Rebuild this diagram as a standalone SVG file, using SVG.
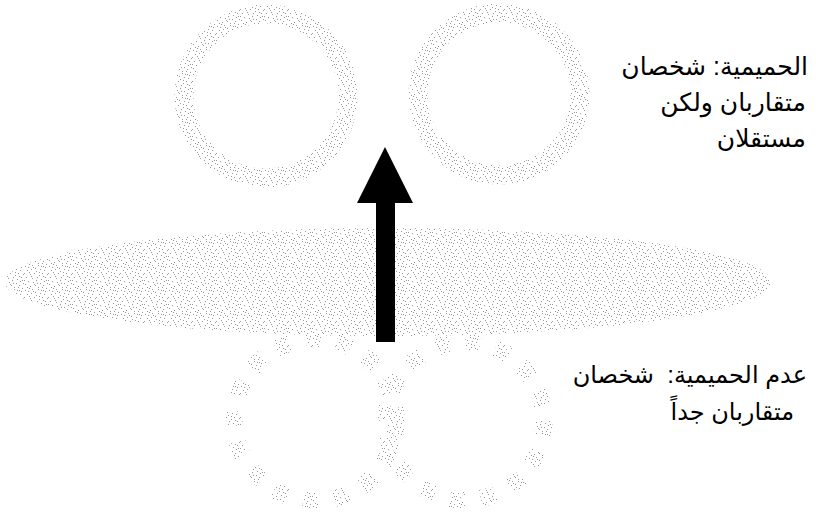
<svg xmlns="http://www.w3.org/2000/svg" width="816" height="519" viewBox="0 0 816 519">
<style>
.lbl{font-family:"Liberation Sans","DejaVu Sans",sans-serif;font-size:25px;fill:#000;white-space:pre}
.lbl2{font-size:24px}
.ring{fill:none;stroke:url(#stip);stroke-width:19}
.dring{fill:none;stroke:url(#stip);stroke-width:17;stroke-dasharray:15 16}
</style>
<defs>
<pattern id="stip" width="24" height="24" patternUnits="userSpaceOnUse">
<g fill="#999">
<rect x="1" y="2" width="1" height="1"/><rect x="5" y="0" width="1" height="1"/><rect x="9" y="3" width="1" height="1"/><rect x="14" y="1" width="1" height="1"/>
<rect x="19" y="2" width="1" height="1"/><rect x="22" y="0" width="1" height="1"/><rect x="3" y="6" width="1" height="1"/><rect x="7" y="5" width="1" height="1"/>
<rect x="12" y="7" width="1" height="1"/><rect x="16" y="5" width="1" height="1"/><rect x="20" y="6" width="1" height="1"/><rect x="0" y="9" width="1" height="1"/>
<rect x="6" y="10" width="1" height="1"/><rect x="10" y="9" width="1" height="1"/><rect x="15" y="11" width="1" height="1"/><rect x="18" y="9" width="1" height="1"/>
<rect x="23" y="10" width="1" height="1"/><rect x="2" y="13" width="1" height="1"/><rect x="8" y="14" width="1" height="1"/><rect x="13" y="13" width="1" height="1"/>
<rect x="17" y="15" width="1" height="1"/><rect x="21" y="13" width="1" height="1"/><rect x="4" y="17" width="1" height="1"/><rect x="9" y="18" width="1" height="1"/>
<rect x="12" y="16" width="1" height="1"/><rect x="16" y="19" width="1" height="1"/><rect x="20" y="17" width="1" height="1"/><rect x="1" y="20" width="1" height="1"/>
<rect x="6" y="22" width="1" height="1"/><rect x="11" y="21" width="1" height="1"/><rect x="14" y="23" width="1" height="1"/><rect x="19" y="21" width="1" height="1"/>
<rect x="23" y="19" width="1" height="1"/><rect x="3" y="23" width="1" height="1"/><rect x="8" y="1" width="1" height="1"/><rect x="17" y="2" width="1" height="1"/>
<rect x="5" y="8" width="1" height="1"/><rect x="21" y="3" width="1" height="1"/><rect x="11" y="4" width="1" height="1"/><rect x="0" y="16" width="1" height="1"/>
<rect x="7" y="12" width="1" height="1"/><rect x="22" y="16" width="1" height="1"/><rect x="15" y="8" width="1" height="1"/><rect x="10" y="20" width="1" height="1"/>
<rect x="18" y="23" width="1" height="1"/><rect x="4" y="3" width="1" height="1"/><rect x="13" y="19" width="1" height="1"/><rect x="19" y="12" width="1" height="1"/>
</g>
</pattern>
</defs>
<g id="circle-top-left"><circle class="ring" cx="266" cy="96" r="82"/></g>
<g id="circle-top-right"><circle class="ring" cx="499" cy="94" r="81"/></g>
<g id="band"><ellipse cx="388" cy="282" rx="383" ry="54" fill="url(#stip)"/></g>
<g id="circle-bottom-left"><circle class="dring" cx="315" cy="420" r="81"/></g>
<g id="circle-bottom-right"><circle class="dring" cx="465" cy="421" r="79"/></g>
<g id="connectors">
<path d="M385 147 L413 203 L395 203 L395 342 L376 342 L376 203 L357 203 Z" fill="#000"/>
</g>
<g id="label-top">
<text class="lbl" x="808" y="75" text-anchor="end">الحميمية: شخصان</text>
<text class="lbl" x="806" y="111" text-anchor="end">متقاربان ولكن</text>
<text class="lbl" x="806" y="147" text-anchor="end">مستقلان</text>
</g>
<g id="label-bottom">
<text class="lbl lbl2" x="807" y="383" text-anchor="end">عدم الحميمية:  شخصان</text>
<text class="lbl lbl2" x="794" y="420" text-anchor="end">متقاربان جداً</text>
</g>
</svg>
